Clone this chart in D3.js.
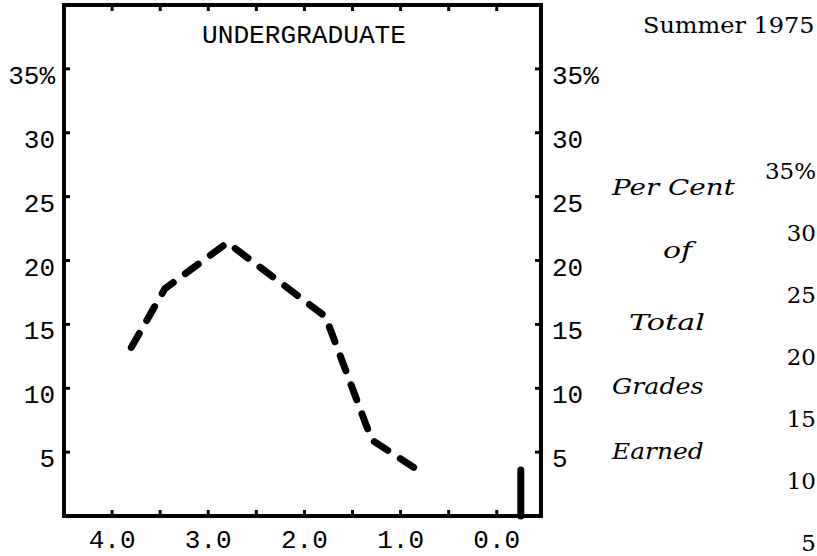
<!DOCTYPE html>
<html>
<head>
<meta charset="utf-8">
<script src="https://cdn.jsdelivr.net/npm/d3@7"></script>
<style>
  html, body { margin: 0; padding: 0; background: #fff; }
  svg { display: block; }
</style>
</head>
<body>
<svg id="chart" width="817" height="556"></svg>
<script>
// ---- data ----
const gradePoints = [3.8, 3.45, 2.8, 1.78, 1.3, 0.77];
const percents    = [13.2, 17.8, 21.4, 15.6, 5.95, 3.35];
const failX       = [-0.25];
const failPct     = [3.6];
const xTickValues = [4, 3.5, 3, 2.5, 2, 1.5, 1, 0.5, 0];
const xLabelValues = [4, 3, 2, 1, 0];
const xTickLabels = ["4.0", "3.0", "2.0", "1.0", "0.0"];
const yTickValues = [5, 10, 15, 20, 25, 30, 35];
const yTickLabels = ["5", "10", "15", "20", "25", "30", "35%"];
const sideLabel   = ["Per Cent", "of", "Total", "Grades", "Earned"];
const title       = "UNDERGRADUATE";
const season      = "Summer 1975";

// ---- layout ----
const svg = d3.select("#chart");
const L = 64, R = 541, T = 5, B = 516;
const x = d3.scaleLinear().domain([4.5, -0.46]).range([L, R]);
const y = d3.scaleLinear().domain([0, 40]).range([B, T]);
const y3 = d3.scaleLinear().domain([5, 35]).range([542, 170]);

const gothic = "'Liberation Mono', 'DejaVu Sans Mono', monospace";
const courier = "'DejaVu Serif', 'Liberation Serif', serif";
const ink = "#000";
const charW = 15.6; // monospace advance used for typewriter texts

// frame
svg.append("rect").attr("x", L).attr("y", T).attr("width", R - L).attr("height", B - T)
  .attr("fill", "none").attr("stroke", ink).attr("stroke-width", 4);

// ticks
const tk = 6;
svg.append("g").selectAll("line").data(yTickValues).join("line")
  .attr("x1", L).attr("x2", L + tk).attr("y1", d => y(d)).attr("y2", d => y(d))
  .attr("stroke", ink).attr("stroke-width", 3);
svg.append("g").selectAll("line").data(yTickValues).join("line")
  .attr("x1", R).attr("x2", R - tk).attr("y1", d => y(d)).attr("y2", d => y(d))
  .attr("stroke", ink).attr("stroke-width", 3);
svg.append("g").selectAll("line").data(xTickValues).join("line")
  .attr("x1", d => x(d)).attr("x2", d => x(d)).attr("y1", T).attr("y2", T + tk)
  .attr("stroke", ink).attr("stroke-width", 3);
svg.append("g").selectAll("line").data(xTickValues).join("line")
  .attr("x1", d => x(d)).attr("x2", d => x(d)).attr("y1", B).attr("y2", B - tk)
  .attr("stroke", ink).attr("stroke-width", 3);

// left labels
svg.append("g").selectAll("text").data(yTickValues).join("text")
  .attr("x", 55).attr("y", d => y(d) + 15).attr("text-anchor", "end")
  .attr("font-family", gothic).attr("font-size", 26).attr("fill", ink)
  .text((d, i) => yTickLabels[i]);
// right labels of panel
svg.append("g").selectAll("text").data(yTickValues).join("text")
  .attr("x", 552).attr("y", d => y(d) + 15).attr("text-anchor", "start")
  .attr("font-family", gothic).attr("font-size", 26).attr("fill", ink)
  .text((d, i) => yTickLabels[i]);
// bottom labels
svg.append("g").selectAll("text").data(xLabelValues).join("text")
  .attr("x", d => x(d)).attr("y", 548).attr("text-anchor", "middle")
  .attr("font-family", gothic).attr("font-size", 26).attr("fill", ink)
  .text((d, i) => xTickLabels[i]);

// title
svg.append("text").attr("x", 304).attr("y", 43).attr("text-anchor", "middle")
  .attr("font-family", gothic).attr("font-size", 26).attr("fill", ink)
  .attr("textLength", 204).attr("lengthAdjust", "spacingAndGlyphs")
  .text(title);

// season
svg.append("text").attr("x", 643).attr("y", 33)
  .attr("font-family", courier).attr("font-size", 23).attr("fill", ink)
  .attr("textLength", season.length * charW).attr("lengthAdjust", "spacingAndGlyphs")
  .text(season);

// side label
const sideX = [612, 663, 629, 612, 612];
const sideY = [195, 258, 330, 394, 459];
svg.append("g").selectAll("text").data(sideLabel).join("text")
  .attr("x", (d, i) => sideX[i]).attr("y", (d, i) => sideY[i])
  .attr("font-family", courier).attr("font-style", "italic").attr("font-size", 23).attr("fill", ink)
  .attr("textLength", d => d.length * charW - 2).attr("lengthAdjust", "spacingAndGlyphs")
  .text(d => d);

// partial third panel labels
svg.append("g").selectAll("text").data(yTickValues).join("text")
  .attr("x", 816).attr("y", d => y3(d) + 9)
  .attr("font-family", courier).attr("font-size", 23).attr("fill", ink)
  .attr("text-anchor", "end")
  .text((d, i) => yTickLabels[i]);

// dashed line
const line = d3.line().x(d => x(d[0])).y(d => y(d[1]));
svg.append("path").datum(gradePoints.map((g, i) => [g, percents[i]]))
  .attr("d", line).attr("fill", "none").attr("stroke", ink)
  .attr("stroke-width", 7).attr("stroke-linecap", "round").attr("stroke-linejoin", "round")
  .attr("stroke-dasharray", "16,15");

// F bar
svg.append("g").selectAll("line").data(failX).join("line")
  .attr("x1", d => x(d)).attr("x2", d => x(d))
  .attr("y1", y(0)).attr("y2", (d, i) => y(failPct[i]))
  .attr("stroke", ink).attr("stroke-width", 7).attr("stroke-linecap", "round");
</script>
</body>
</html>
